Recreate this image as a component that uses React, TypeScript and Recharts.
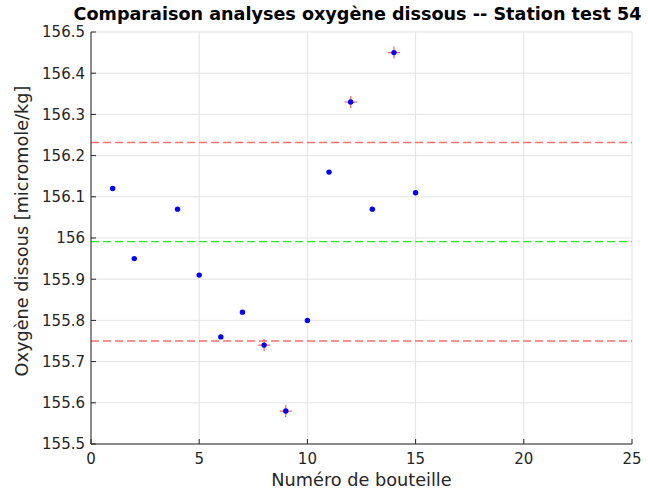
import { CartesianGrid, ReferenceLine, Scatter, ScatterChart, XAxis, YAxis } from "recharts";

const bottles = [1, 2, 4, 5, 6, 7, 8, 9, 10, 11, 12, 13, 14, 15];
const oxygen = [156.12, 155.95, 156.07, 155.91, 155.76, 155.82, 155.74, 155.58, 155.8, 156.16, 156.33, 156.07, 156.45, 156.11];
const meanLevel = 155.991;
const upperLimit = 156.232;
const lowerLimit = 155.75;
const xTicks = [0, 5, 10, 15, 20, 25];
const yTicks = [155.5, 155.6, 155.7, 155.8, 155.9, 156, 156.1, 156.2, 156.3, 156.4, 156.5];

const points = bottles.map((b, i) => ({ x: b, y: oxygen[i] }));
const flagged = points.filter((p) => p.y > upperLimit || p.y < lowerLimit);

const font = "'DejaVu Sans', sans-serif";
const ink = "#262626";
const tickStyle = { fill: ink, fontSize: 15, fontFamily: font };

const dot = (props: any) => <circle cx={props.cx} cy={props.cy} r={2.7} fill="#0000ff" />;
const plus = (props: any) => (
  <path d={`M${props.cx - 6},${props.cy}H${props.cx + 6}M${props.cx},${props.cy - 6}V${props.cy + 6}`} stroke="#ff6060" strokeWidth={1.2} fill="none" />
);

export default function App() {
  return (
    <div style={{ position: "absolute", left: 0, top: 0, width: 648, height: 492, background: "#fff", fontFamily: font, color: ink }}>
      <div style={{ position: "absolute", left: 0, width: 715, top: 4, textAlign: "center", fontWeight: "bold", fontSize: 17.6, color: "#000" }}>
        Comparaison analyses oxygène dissous -- Station test 54
      </div>
      <ScatterChart width={648} height={492} margin={{ top: 32, right: 16, bottom: 8, left: 31 }}>
        <CartesianGrid stroke="#e3e3e3" />
        <XAxis type="number" dataKey="x" domain={[0, 25]} ticks={xTicks} height={40} tickSize={-5} tickMargin={14} tick={tickStyle} stroke={ink} />
        <XAxis xAxisId="top" orientation="top" type="number" dataKey="x" domain={[0, 25]} ticks={xTicks} height={0} tickSize={-5} tick={false} stroke={ink} />
        <YAxis type="number" dataKey="y" domain={[155.5, 156.5]} ticks={yTicks} width={60} tickSize={-5} tickMargin={11} tick={tickStyle} stroke={ink} interval={0} tickFormatter={(v: number) => String(Number(v.toFixed(1)))} />
        <YAxis yAxisId="right" orientation="right" type="number" domain={[155.5, 156.5]} ticks={yTicks} width={0} tickSize={-5} tick={false} stroke={ink} interval={0} />
        <ReferenceLine y={upperLimit} stroke="#ff7070" strokeWidth={1.5} strokeDasharray="8 4" />
        <ReferenceLine y={lowerLimit} stroke="#ff7070" strokeWidth={1.5} strokeDasharray="8 4" />
        <ReferenceLine y={meanLevel} stroke="#22ee22" strokeWidth={1.3} strokeDasharray="8 4" />
        <Scatter data={flagged} shape={plus} isAnimationActive={false} />
        <Scatter data={points} shape={dot} isAnimationActive={false} />
      </ScatterChart>
      <div style={{ position: "absolute", left: 0, width: 723, top: 470, textAlign: "center", fontSize: 17.7 }}>Numéro de bouteille</div>
      <div style={{ position: "absolute", left: 22, top: 231, width: 0, height: 0 }}>
        <div style={{ position: "absolute", transform: "translate(-50%, -50%) rotate(-90deg)", whiteSpace: "nowrap", fontSize: 17.7 }}>
          Oxygène dissous [micromole/kg]
        </div>
      </div>
    </div>
  );
}
